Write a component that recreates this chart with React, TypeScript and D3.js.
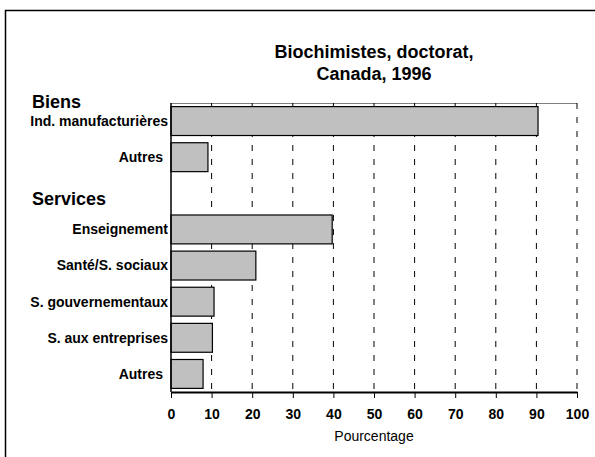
import React, { useEffect, useRef } from "react";
import * as d3 from "d3";

// categories in drawing order, the empty slot leaves room for the "Services" header
const categories = [
  "Ind. manufacturières",
  "Autres",
  "",
  "Enseignement",
  "Santé/S. sociaux",
  "S. gouvernementaux",
  "S. aux entreprises",
  "Autres",
];
const values = [90.4, 9.1, null, 39.7, 20.9, 10.6, 10.2, 7.9];
const groupHeaders = ["Biens", "Services"];
const xTicks = [0, 10, 20, 30, 40, 50, 60, 70, 80, 90, 100];
const titleLines = ["Biochimistes, doctorat,", "Canada, 1996"];
const xLabel = "Pourcentage";

const FONT = "Arial, 'Liberation Sans', sans-serif";

const App = () => {
  const svgRef = useRef<SVGSVGElement>(null);

  useEffect(() => {
    const svg = d3.select(svgRef.current);
    svg.selectAll("*").remove();

    const width = 595;
    const height = 457;
    const margin = { top: 103, right: 18, bottom: 65, left: 171 };

    svg.attr("width", width).attr("height", height);

    // outer frame (only top and left edges visible)
    svg.append("path")
      .attr("d", `M5.5,${height} L5.5,10.5 L${width},10.5`)
      .attr("fill", "none")
      .attr("stroke", "#000")
      .attr("stroke-width", 1.5);

    const x = d3.scaleLinear()
      .domain([0, 100])
      .range([margin.left, width - margin.right]);

    const slots = categories.map((_, i) => String(i));
    const y = d3.scaleBand()
      .domain(slots)
      .range([margin.top, height - margin.bottom])
      .paddingInner(0.2)
      .paddingOuter(0.1);

    const y0 = margin.top;
    const y1 = height - margin.bottom;

    // plot top border
    svg.append("line")
      .attr("x1", x(0)).attr("x2", x(100))
      .attr("y1", y0 + 0.5).attr("y2", y0 + 0.5)
      .attr("stroke", "#808080")
      .attr("stroke-width", 1);

    // dashed grid
    svg.append("g")
      .selectAll("line")
      .data(xTicks.filter(d => d > 0))
      .enter()
      .append("line")
      .attr("x1", d => x(d))
      .attr("x2", d => x(d))
      .attr("y1", y0)
      .attr("y2", y1)
      .attr("stroke", "#000")
      .attr("stroke-width", 1)
      .attr("stroke-dasharray", "6,8");

    // bars
    const rows = categories
      .map((c, i) => ({ key: String(i), name: c, value: values[i] }))
      .filter(d => d.value !== null);

    svg.append("g")
      .selectAll("rect")
      .data(rows)
      .enter()
      .append("rect")
      .attr("x", x(0))
      .attr("y", d => y(d.key))
      .attr("width", d => x(d.value as number) - x(0))
      .attr("height", y.bandwidth())
      .attr("fill", "#c0c0c0")
      .attr("stroke", "#000")
      .attr("stroke-width", 1.2);

    // category labels
    svg.append("g")
      .selectAll("text")
      .data(rows)
      .enter()
      .append("text")
      .attr("x", d => (d.name === "Autres" ? x(0) - 8 : x(0) - 3))
      .attr("y", d => (y(d.key) as number) + y.bandwidth() / 2)
      .attr("dy", "0.35em")
      .attr("text-anchor", "end")
      .attr("font-family", FONT)
      .attr("font-weight", "bold")
      .attr("font-size", 14)
      .text(d => d.name);

    // group headers
    svg.append("text")
      .attr("x", 32)
      .attr("y", y0 + 5)
      .attr("font-family", FONT)
      .attr("font-weight", "bold")
      .attr("font-size", 18)
      .text(groupHeaders[0]);

    svg.append("text")
      .attr("x", 32)
      .attr("y", (y("2") as number) + y.bandwidth() / 2 + 12)
      .attr("font-family", FONT)
      .attr("font-weight", "bold")
      .attr("font-size", 18)
      .text(groupHeaders[1]);

    // left axis line
    svg.append("line")
      .attr("x1", x(0)).attr("x2", x(0))
      .attr("y1", y0).attr("y2", y1)
      .attr("stroke", "#000")
      .attr("stroke-width", 1.5);

    // bottom axis
    const xAxis = svg.append("g")
      .attr("transform", `translate(0,${y1})`)
      .call(d3.axisBottom(x).tickValues(xTicks).tickSize(6).tickSizeOuter(0));
    xAxis.select(".domain").attr("stroke", "#000").attr("stroke-width", 2);
    xAxis.selectAll(".tick line").attr("stroke", "#000");
    xAxis.selectAll(".tick text")
      .attr("font-family", FONT)
      .attr("font-weight", "bold")
      .attr("font-size", 14)
      .attr("fill", "#000")
      .attr("y", 17);

    svg.append("text")
      .attr("x", (x(0) + x(100)) / 2)
      .attr("y", 441)
      .attr("text-anchor", "middle")
      .attr("font-family", FONT)
      .attr("font-size", 14)
      .text(xLabel);

    // title
    svg.append("g")
      .selectAll("text")
      .data(titleLines)
      .enter()
      .append("text")
      .attr("x", (x(0) + x(100)) / 2)
      .attr("y", (_, i) => 58 + i * 22)
      .attr("text-anchor", "middle")
      .attr("font-family", FONT)
      .attr("font-weight", "bold")
      .attr("font-size", 18)
      .text(d => d);
  }, []);

  return (
    <div style={{ position: "fixed", left: 0, top: 0, background: "#fff" }}>
      <svg ref={svgRef} style={{ display: "block" }}></svg>
    </div>
  );
};

export default App;
